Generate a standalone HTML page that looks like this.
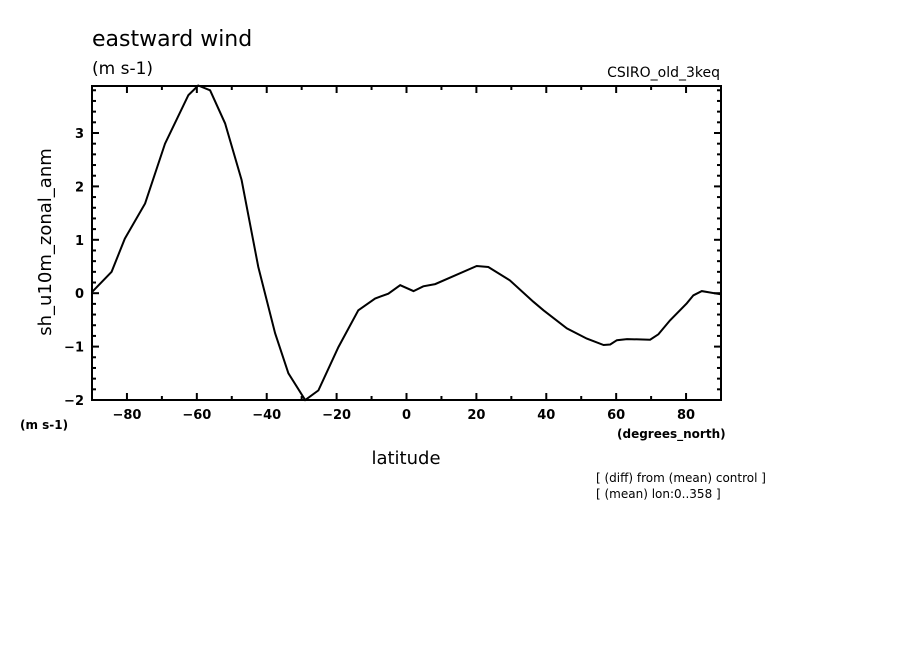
<!DOCTYPE html>
<html><head><meta charset="utf-8"><style>
body{margin:0;background:#fff;}
svg text{font-family:"DejaVu Sans","Liberation Sans",sans-serif;fill:#000;}
</style></head><body>
<svg width="904" height="654" viewBox="0 0 904 654">
<rect width="904" height="654" fill="#fff"/>
<text x="92" y="46" font-size="22">eastward wind</text>
<text x="92" y="74" font-size="17">(m s-1)</text>
<text x="720" y="77" font-size="14" text-anchor="end">CSIRO_old_3keq</text>
<text transform="translate(51,242) rotate(-90)" font-size="18" text-anchor="middle">sh_u10m_zonal_anm</text>
<text x="20" y="429" font-size="12" font-weight="bold">(m s-1)</text>
<text x="617" y="438" font-size="12" font-weight="bold">(degrees_north)</text>
<text x="406" y="464" font-size="18" text-anchor="middle">latitude</text>
<text x="596" y="482" font-size="12">[ (diff) from (mean) control ]</text>
<text x="596" y="498" font-size="12">[ (mean) lon:0..358 ]</text>
<g id="axes"></g>
<path id="line" fill="none" stroke="#000" stroke-width="2"/>
<rect x="92" y="86" width="629" height="314" fill="none" stroke="#000" stroke-width="2"/>
</svg>
<script>
const lats=[-90,-84.4,-80.6,-74.8,-69.1,-62.4,-59.6,-56.2,-51.9,-47.2,-42.4,-37.6,-33.8,-29,-25.2,-19.5,-13.8,-9,-5.2,-1.8,2,4.8,8.2,20.1,23.4,29.6,36.3,39.2,45.9,51.6,56.4,58.3,60.2,63.1,69.7,72.1,75.4,80.2,82.1,84.5,89.9];
const vals=[0.02,0.4,1.02,1.68,2.8,3.71,3.89,3.8,3.18,2.12,0.49,-0.75,-1.5,-2,-1.82,-1.01,-0.32,-0.1,-0.01,0.15,0.04,0.13,0.17,0.51,0.49,0.24,-0.16,-0.32,-0.66,-0.85,-0.97,-0.96,-0.88,-0.86,-0.87,-0.77,-0.51,-0.19,-0.04,0.04,-0.02];
const xTicks=[-80,-60,-40,-20,0,20,40,60,80];
const yTicks=[-2,-1,0,1,2,3];
const X0=92,X1=721,Y0=400,Y1=86,XMIN=-90,XMAX=90,YMIN=-2,YMAX=3.88;
const sx=v=>X0+(v-XMIN)/(XMAX-XMIN)*(X1-X0);
const sy=v=>Y0-(v-YMIN)/(YMAX-YMIN)*(Y0-Y1);
const NS='http://www.w3.org/2000/svg';
const g=document.getElementById('axes');
function ln(x1,y1,x2,y2,name){const l=document.createElementNS(NS,'line');l.setAttribute('x1',x1);l.setAttribute('y1',y1);l.setAttribute('x2',x2);l.setAttribute('y2',y2);l.setAttribute('stroke','#000');l.setAttribute('stroke-width','2');


g.appendChild(l);}
for(let v=-90;v<=90;v+=10){const x=sx(v);const L=(v%20===0)?7:4;ln(x,Y0,x,Y0-L,'x-tick');ln(x,Y1,x,Y1+L,'x-tick-top');}
for(let k=-10;k<=19;k++){const v=k*0.2;const y=sy(v);const L=(k%5===0)?7:4;ln(X0,y,X0+L,y,'y-tick');ln(X1,y,X1-L,y,'y-tick-right');}
xTicks.forEach(v=>{const t=document.createElementNS(NS,'text');t.setAttribute('x',sx(v));t.setAttribute('y',419);t.setAttribute('font-size','13');t.setAttribute('font-weight','bold');t.setAttribute('text-anchor','middle');t.textContent=(v<0?'\u2212'+(-v):v);


g.appendChild(t);});
yTicks.forEach(v=>{const t=document.createElementNS(NS,'text');t.setAttribute('x',84);t.setAttribute('y',sy(v)+5);t.setAttribute('font-size','13');t.setAttribute('font-weight','bold');t.setAttribute('text-anchor','end');t.textContent=(v<0?'\u2212'+(-v):v);


g.appendChild(t);});
document.getElementById('line').setAttribute('d',lats.map((a,i)=>(i?'L':'M')+sx(a).toFixed(1)+' '+sy(vals[i]).toFixed(1)).join(' '));
</script>
</body></html>
